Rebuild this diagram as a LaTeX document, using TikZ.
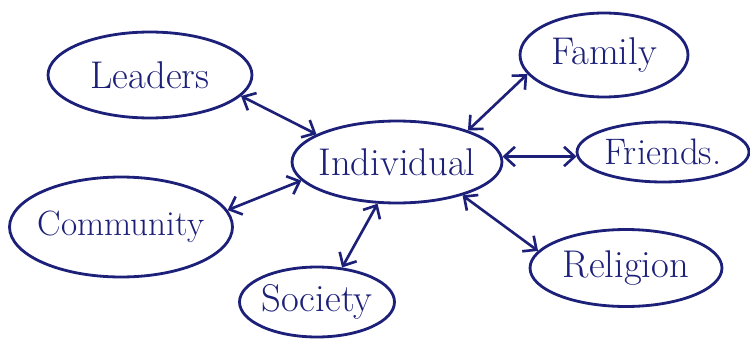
\documentclass[tikz,border=0pt]{standalone}
\usetikzlibrary{shapes.geometric,arrows.meta}
\definecolor{ink}{RGB}{28,32,120}
\newcommand{\zb}[1]{\makebox[0pt]{#1}}
\begin{document}
\begin{tikzpicture}[x=0.02cm,y=-0.02cm,
  bub/.style={ellipse,draw=ink,line width=1.6pt,inner sep=0pt,text=ink,
    font=\fontsize{22}{26}\selectfont},
  link/.style={draw=ink,line width=1.5pt,
    {Straight Barb[length=6pt,width=11pt]}-{Straight Barb[length=6pt,width=11pt]}}]
\useasboundingbox (0,0) rectangle (750,338);
\node[bub,minimum width=4.08cm,minimum height=1.72cm] (lead) at (150,75) {\zb{Leaders}};
\node[bub,minimum width=4.2cm,minimum height=1.64cm] (ind) at (397,162) {\zb{Individual}};
\node[bub,minimum width=4.46cm,minimum height=2.0cm,font=\fontsize{20}{24}\selectfont] (comm) at (121,227) {\zb{Community}};
\node[bub,minimum width=3.1cm,minimum height=1.4cm] (soc) at (317,302) {\zb{Society}};
\node[bub,minimum width=3.36cm,minimum height=1.68cm] (fam) at (604,55) {\zb{Family}};
\node[bub,minimum width=3.44cm,minimum height=1.2cm,font=\fontsize{21}{25}\selectfont] (fri) at (663,152) {\zb{Friends.}};
\node[bub,minimum width=3.84cm,minimum height=1.54cm] (rel) at (626,268) {\zb{Religion}};
\draw[link] (lead.-13) -- (ind.161);
\draw[link] (fam.-166) -- (ind.24);
\draw[link] (ind.3) -- (fri.183);
\draw[link] (comm.9) -- (ind.191);
\draw[link] (ind.245) -- (soc.54);
\draw[link] (ind.-27) -- (rel.169);
\end{tikzpicture}
\end{document}
